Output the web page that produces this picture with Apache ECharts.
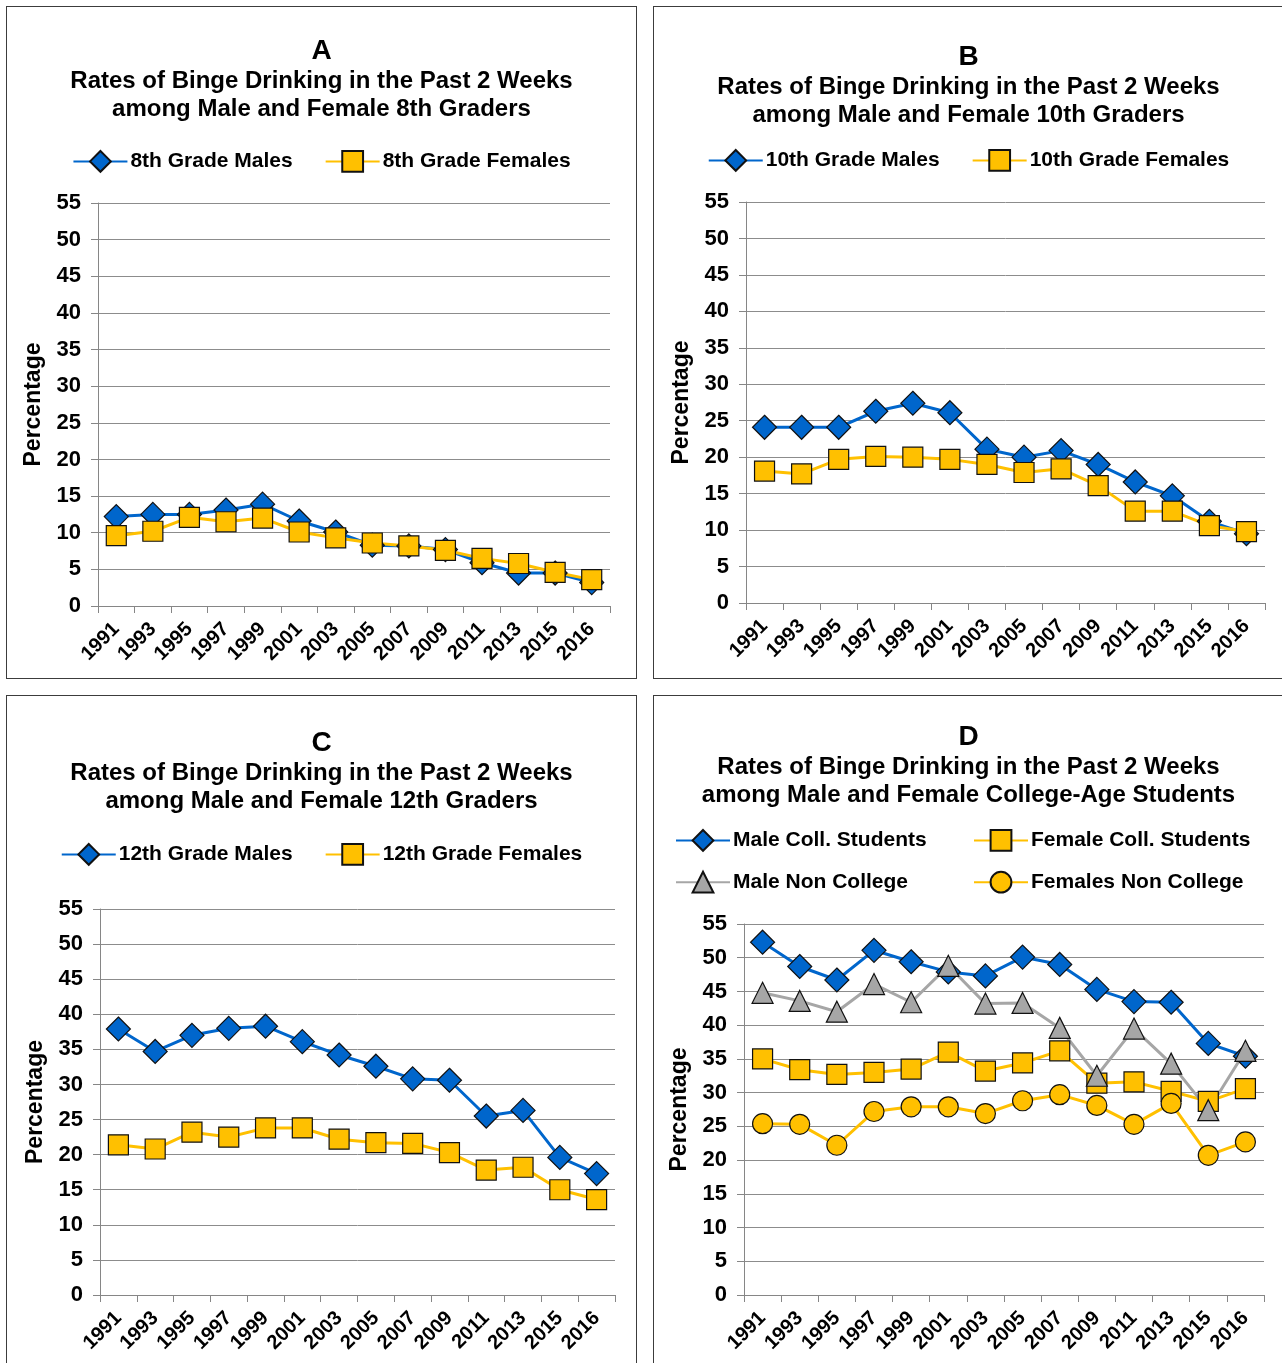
<!DOCTYPE html>
<html>
<head>
<meta charset="utf-8">
<script src="https://cdn.jsdelivr.net/npm/echarts@6/dist/echarts.min.js"></script>
<style>
html, body { margin: 0; padding: 0; background: #fff; overflow: hidden; }
body { width: 1282px; height: 1363px; position: relative; }
.panel { position: absolute; border: 1px solid #3c3c3c; box-sizing: border-box; background: #fff; }
</style>
</head>
<body>
<div id="panel-a" class="panel" style="left:6px;top:6px;width:631px;height:673px"></div>
<div id="panel-b" class="panel" style="left:653px;top:6px;width:631px;height:673px"></div>
<div id="panel-c" class="panel" style="left:6px;top:695px;width:631px;height:680px"></div>
<div id="panel-d" class="panel" style="left:653px;top:695px;width:631px;height:680px"></div>
<script>
// ---------- DATA ----------
const years = ['1991', '1993', '1995', '1997', '1999', '2001', '2003', '2005', '2007', '2009', '2011', '2013', '2015', '2016'];

const grade8Males = [12.2, 12.5, 12.5, 13.1, 13.9, 11.6, 10.1, 8.3, 8.2, 7.7, 5.9, 4.5, 4.5, 3.2];
const grade8Females = [9.6, 10.2, 12.1, 11.5, 12.0, 10.1, 9.3, 8.6, 8.2, 7.6, 6.5, 5.8, 4.6, 3.6];

const grade10Males = [24.1, 24.1, 24.1, 26.3, 27.4, 26.1, 21.1, 20.0, 20.9, 19.0, 16.6, 14.7, 11.2, 9.5];
const grade10Females = [18.1, 17.7, 19.7, 20.1, 20.0, 19.7, 19.0, 17.9, 18.4, 16.1, 12.6, 12.6, 10.6, 9.8];

const grade12Males = [37.9, 34.7, 37.0, 38.0, 38.3, 36.1, 34.2, 32.6, 30.8, 30.6, 25.5, 26.3, 19.6, 17.3];
const grade12Females = [21.4, 20.8, 23.2, 22.5, 23.8, 23.8, 22.2, 21.7, 21.6, 20.3, 17.8, 18.2, 15.0, 13.6];

const maleCollege = [52.3, 48.7, 46.7, 51.1, 49.4, 47.9, 47.3, 50.1, 49.0, 45.3, 43.5, 43.4, 37.3, 35.4];
const femaleCollege = [35.0, 33.4, 32.7, 33.0, 33.5, 36.0, 33.2, 34.4, 36.2, 31.4, 31.6, 30.2, 28.7, 30.6];
const maleNonCollege = [44.8, 43.6, 42.0, 46.1, 43.4, 48.8, 43.2, 43.3, 39.6, 32.5, 39.5, 34.3, 27.4, 36.2];
const femaleNonCollege = [25.4, 25.3, 22.2, 27.2, 27.9, 27.9, 26.9, 28.8, 29.7, 28.1, 25.3, 28.4, 20.7, 22.7];

const yMin = 0;
const yMax = 55;
const yStep = 5;

const titleLine1 = 'Rates of Binge Drinking in the Past 2 Weeks';

// ---------- STYLE HELPERS ----------
const FONT = '"Liberation Sans", Arial, Helvetica, sans-serif';
const BLUE = '#0066CC';
const GOLD = '#FFC000';
const GREY = '#A6A6A6';

const markers = {
	diamond: { symbol: 'diamond', size: 24, fill: BLUE, line: BLUE },
	square: { symbol: 'rect', size: 20, fill: GOLD, line: GOLD },
	triangle: { symbol: 'triangle', size: 21, fill: GREY, line: GREY },
	circle: { symbol: 'circle', size: 20, fill: GOLD, line: GOLD }
};

function lineSeries(name, data, kind) {
	const m = markers[kind];
	return {
		name: name,
		type: 'line',
		data: data,
		symbol: m.symbol,
		symbolSize: m.size,
		showAllSymbol: true,
		lineStyle: { color: m.line, width: 3 },
		itemStyle: { color: m.fill, borderColor: '#111', borderWidth: 1.2 },
		emphasis: { disabled: true },
		animation: false
	};
}

function titles(letter, line2, letterTop, textTop) {
	return [
		{
			text: letter, left: 'center', top: letterTop, padding: 0,
			textStyle: { fontFamily: FONT, fontSize: 28, fontWeight: 'bold', color: '#000', lineHeight: 32 }
		},
		{
			text: titleLine1 + '\n' + line2, left: 'center', top: textTop, padding: 0,
			textStyle: { fontFamily: FONT, fontSize: 24, fontWeight: 'bold', color: '#000', lineHeight: 28 }
		}
	];
}

function legend(extra) {
	return Object.assign({
		itemWidth: 54,
		itemHeight: 26,
		itemGap: 32,
		padding: 0,
		selectedMode: false,
		textStyle: { fontFamily: FONT, fontSize: 21, fontWeight: 'bold', color: '#000', padding: [0, 0, 0, -2] }
	}, extra);
}

function axes() {
	return {
		xAxis: {
			type: 'category',
			data: years,
			boundaryGap: true,
			axisLine: { lineStyle: { color: '#868686', width: 1 } },
			axisTick: { show: true, interval: 0, length: 7, lineStyle: { color: '#868686' } },
			axisLabel: {
				interval: 0, rotate: 45, margin: 20,
				fontFamily: FONT, fontSize: 20, fontWeight: 'bold', color: '#000'
			},
			splitLine: { show: false }
		},
		yAxis: {
			type: 'value',
			min: yMin, max: yMax, interval: yStep,
			name: 'Percentage',
			nameLocation: 'middle',
			nameRotate: 90,
			nameGap: 52,
			nameTextStyle: { fontFamily: FONT, fontSize: 23, fontWeight: 'bold', color: '#000' },
			axisLine: { show: true, lineStyle: { color: '#868686', width: 1 } },
			axisTick: { show: true, length: 7, lineStyle: { color: '#868686' } },
			axisLabel: { margin: 17, fontFamily: FONT, fontSize: 22, fontWeight: 'bold', color: '#000' },
			splitLine: { show: true, lineStyle: { color: '#8C8C8C', width: 1 } }
		}
	};
}

// ---------- CHARTS ----------

// PANEL A
var chartA = echarts.init(document.getElementById('panel-a'));
let chartAOptions = Object.assign({
	animation: false,
	title: titles('A', 'among Male and Female 8th Graders', 28, 60),
	legend: legend({ left: 'center', top: 143 }),
	grid: { left: 91, top: 196, width: 512, height: 403 },
	series: [
		lineSeries('8th Grade Males', grade8Males, 'diamond'),
		lineSeries('8th Grade Females', grade8Females, 'square')
	]
}, axes());
chartA.setOption(chartAOptions);

// PANEL B
var chartB = echarts.init(document.getElementById('panel-b'));
let chartBOptions = Object.assign({
	animation: false,
	title: titles('B', 'among Male and Female 10th Graders', 34, 66),
	legend: legend({ left: 'center', top: 142 }),
	grid: { left: 92, top: 195, width: 519, height: 401 },
	series: [
		lineSeries('10th Grade Males', grade10Males, 'diamond'),
		lineSeries('10th Grade Females', grade10Females, 'square')
	]
}, axes());
chartB.setOption(chartBOptions);

// PANEL C
var chartC = echarts.init(document.getElementById('panel-c'));
let chartCOptions = Object.assign({
	animation: false,
	title: titles('C', 'among Male and Female 12th Graders', 31, 63),
	legend: legend({ left: 'center', top: 147 }),
	grid: { left: 93, top: 213, width: 515, height: 386 },
	series: [
		lineSeries('12th Grade Males', grade12Males, 'diamond'),
		lineSeries('12th Grade Females', grade12Females, 'square')
	]
}, axes());
chartC.setOption(chartCOptions);

// PANEL D
var chartD = echarts.init(document.getElementById('panel-d'));
let chartDOptions = Object.assign({
	animation: false,
	title: titles('D', 'among Male and Female College-Age Students', 25, 57),
	legend: [
		legend({ orient: 'vertical', left: 21, top: 133, itemGap: 19, data: ['Male Coll. Students', 'Male Non College'] }),
		legend({ orient: 'vertical', left: 319, top: 133, itemGap: 19, data: ['Female Coll. Students', 'Females Non College'] })
	],
	grid: { left: 90, top: 228, width: 520, height: 371 },
	series: [
		lineSeries('Male Coll. Students', maleCollege, 'diamond'),
		lineSeries('Female Coll. Students', femaleCollege, 'square'),
		lineSeries('Male Non College', maleNonCollege, 'triangle'),
		lineSeries('Females Non College', femaleNonCollege, 'circle')
	]
}, axes());
chartD.setOption(chartDOptions);
</script>
</body>
</html>
